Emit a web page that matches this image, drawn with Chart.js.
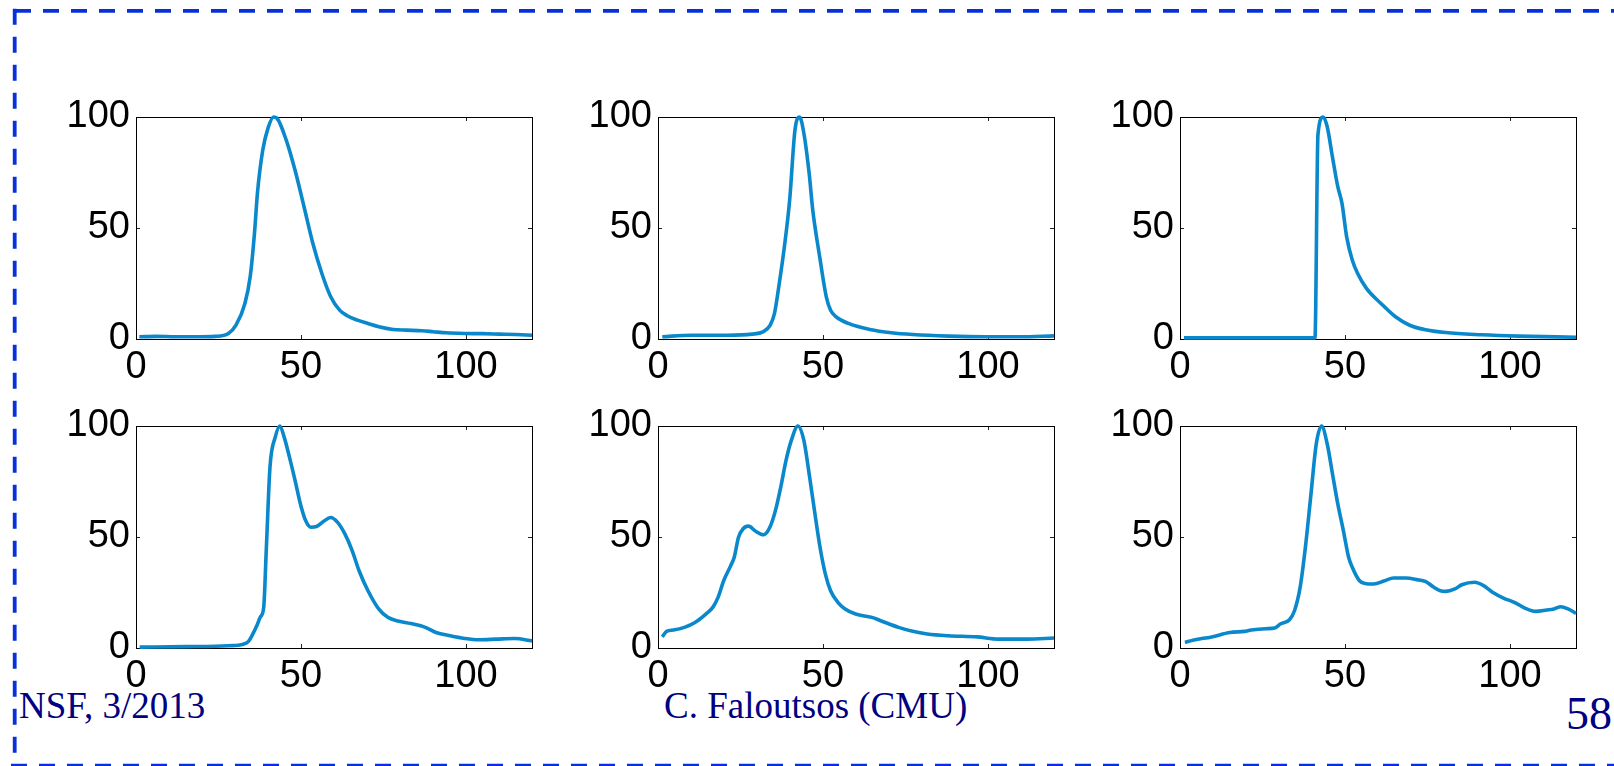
<!DOCTYPE html>
<html>
<head>
<meta charset="utf-8">
<script src="https://cdn.jsdelivr.net/npm/chart.js@4/dist/chart.umd.min.js"></script>
<style>
  html, body { margin: 0; padding: 0; background: #fff; }
  #page { position: relative; width: 1614px; height: 766px; overflow: hidden; background: #fff; }
  #page canvas { position: absolute; }
  #frame { position: absolute; left: 0; top: 0; }
</style>
</head>
<body>
<div id="page">
  <svg id="frame" width="1614" height="766" xmlns="http://www.w3.org/2000/svg">
    <line x1="15" y1="10.8" x2="1614" y2="10.8" stroke="#0630da" stroke-width="3.8" stroke-dasharray="16 12"/>
    <line x1="14.7" y1="8.7" x2="14.7" y2="766" stroke="#0630da" stroke-width="3.8" stroke-dasharray="16 12"/>
    <line x1="11" y1="765" x2="1614" y2="765" stroke="#0630da" stroke-width="2.5" stroke-dasharray="16 12"/>
    <text id="footLeft" x="19" y="717.5" font-family="'Liberation Serif','Times New Roman',serif" font-size="37" fill="#000080"></text>
    <text id="footMid" x="664" y="717.5" font-family="'Liberation Serif','Times New Roman',serif" font-size="37" fill="#000080"></text>
    <text id="footRight" x="1612" y="728.5" text-anchor="end" font-family="'Liberation Serif','Times New Roman',serif" font-size="46" fill="#000080"></text>
  </svg>
  <canvas id="p1" width="504" height="322" style="left:36px;top:77px"></canvas>
  <canvas id="p2" width="504" height="322" style="left:558px;top:77px"></canvas>
  <canvas id="p3" width="504" height="322" style="left:1080px;top:77px"></canvas>
  <canvas id="p4" width="504" height="322" style="left:36px;top:386px"></canvas>
  <canvas id="p5" width="504" height="322" style="left:558px;top:386px"></canvas>
  <canvas id="p6" width="504" height="322" style="left:1080px;top:386px"></canvas>
</div>
<script>
// Tick values shared by all six panels
const xTickValues = [0, 50, 100];
const yTickValues = [0, 50, 100];

// Footer text
const footerLeft = 'NSF, 3/2013';
const footerMid = 'C. Faloutsos (CMU)';
const footerPage = '58';

// Panel 1 (top left)
const xs1 = [1, 6, 12, 18, 24, 28, 30.3, 33, 34.6, 35.9, 36.8, 38.4, 40, 41.7, 42.7, 45.5, 48.2, 50.9, 53.6, 56.3, 59, 61.7, 64, 67.1, 70.3, 73.6, 77.9, 82, 86.6, 90, 94, 99.6, 105, 110, 115, 120];
const ys1 = [1, 1.2, 1, 1, 1.2, 2.5, 6.2, 16, 28, 47.6, 65.7, 85, 95, 100, 99.5, 89.7, 76, 59.7, 43, 29.6, 19, 13, 10.5, 8.5, 7, 5.5, 4.3, 4, 3.7, 3.3, 2.8, 2.5, 2.4, 2.2, 2, 1.7];

// Panel 2 (top middle)
const xs2 = [1.3, 10, 21, 28.5, 31.8, 34, 35.3, 36.6, 38.3, 39.9, 41.5, 42.9, 44.2, 45.8, 46.9, 49, 51, 52.3, 54, 57.7, 64.2, 70.7, 77.2, 88, 98.9, 109.7, 120];
const ys2 = [1, 1.7, 1.7, 2.2, 3.2, 6.2, 11.5, 23.5, 41.6, 62.7, 94, 100, 92.7, 74.7, 58, 37, 19, 13, 10, 7, 4.3, 2.8, 2, 1.3, 1, 1, 1.4];

// Panel 3 (top right)
const xs3 = [1.2, 20, 40.9, 41.8, 43.4, 44.6, 46.2, 47.8, 49.1, 50.5, 52.2, 53.8, 56.5, 60.9, 65.3, 69.6, 74, 80.5, 91.4, 102.4, 120];
const ys3 = [0.5, 0.5, 0.5, 92, 100, 95.7, 82, 68.7, 61, 46, 35.6, 29.6, 22.8, 16, 10, 6.2, 4.3, 2.9, 1.9, 1.3, 0.8];

// Panel 4 (bottom left)
const xs4 = [1.1, 15, 28, 32.5, 34.1, 35.3, 36.6, 37.7, 38.7, 39.5, 40.6, 42.2, 43.6, 44.9, 46.5, 48.2, 49.8, 51.4, 53, 54.7, 56.8, 59, 61.1, 63.3, 65.5, 67.6, 70.3, 73.6, 76.3, 79, 83.3, 87.7, 90.9, 95.2, 99.6, 103.9, 109.3, 114.7, 120];
const ys4 = [0.4, 0.6, 1, 1.7, 3, 6, 10, 14, 18.3, 45, 81.5, 95, 100, 95, 86, 75.5, 65, 57.4, 54.4, 54.7, 57, 58.8, 56.6, 51.4, 43.9, 34.8, 25.8, 17.5, 13.8, 12.3, 11, 9.3, 7, 5.5, 4.3, 3.7, 4, 4.3, 3.2];

// Panel 5 (bottom middle)
const xs5 = [1.3, 2.6, 4.7, 8, 11.2, 14.5, 16.6, 18.2, 19.9, 22, 23.1, 24.4, 25.8, 27.4, 29.6, 32, 33.9, 35.6, 37.2, 38.8, 40.4, 42.4, 44.2, 45.8, 47.4, 49.1, 50.7, 52.3, 54.5, 56.7, 59.9, 64.8, 67.5, 72.9, 77.2, 81.6, 88, 96.7, 103.2, 111.8, 120];
const ys5 = [5, 7.5, 8.1, 9.3, 11.5, 15.3, 18.3, 22.8, 30.3, 37, 40.9, 49.9, 53.7, 54.9, 52.6, 51, 54.4, 62, 72.5, 84.5, 93.5, 100, 93.5, 78.5, 62, 45.4, 33.4, 25.8, 20.6, 17.6, 15.3, 13.8, 12.3, 9.3, 7.5, 6.3, 5.5, 5, 4, 4, 4.5];

// Panel 6 (bottom right)
const xs6 = [1.5, 4.2, 9.6, 15.1, 19.5, 21.6, 26, 28.7, 30.4, 33.1, 34.7, 36.4, 38, 39.6, 41.3, 42.9, 44.6, 46.2, 47.8, 49.5, 51.1, 52.2, 54.4, 56, 58.7, 62, 64.7, 68.5, 71.8, 74.5, 76.7, 78.9, 80.5, 83.3, 85.4, 89.3, 92, 94.7, 98, 101.3, 104.5, 107.8, 111.1, 113.3, 115.4, 117.6, 120];
const ys6 = [2.5, 3.6, 5, 7, 7.5, 8.1, 8.7, 9, 10.8, 12.6, 16.8, 27.3, 45.4, 68, 92, 100, 92, 78.5, 65, 52.9, 40.9, 36.4, 30.3, 29.1, 28.8, 30.3, 31.5, 31.5, 30.8, 29.9, 27.6, 25.8, 25.5, 26.6, 28.5, 29.6, 28.1, 25.1, 22.5, 20.6, 18, 16.5, 17.1, 17.6, 18.6, 17.6, 15.6];

document.getElementById('footLeft').textContent = footerLeft;
document.getElementById('footMid').textContent = footerMid;
document.getElementById('footRight').textContent = footerPage;

const LINE_COLOR = '#0a88cc';
const tickFont = { family: "'Liberation Sans', Arial, Helvetica, sans-serif", size: 38 };

function fixedTicks(values) {
  return scale => { scale.ticks = values.map(v => ({ value: v })); };
}

function axisGrid() {
  return { drawOnChartArea: false, drawTicks: true, tickLength: -4, color: '#222', lineWidth: 1 };
}

function axisBorder() {
  return { display: true, color: '#000', width: 1 };
}

function makePanel(id, xs, ys) {
  const points = xs.map((x, i) => ({ x: x, y: ys[i] }));
  return new Chart(document.getElementById(id), {
    type: 'line',
    data: {
      datasets: [{
        data: points,
        borderColor: LINE_COLOR,
        borderWidth: 3.6,
        pointRadius: 0,
        fill: false,
        cubicInterpolationMode: 'monotone',
        clip: false
      }]
    },
    options: {
      responsive: false,
      animation: false,
      events: [],
      layout: { padding: { left: 0, top: 40, right: 8, bottom: 0 } },
      plugins: { legend: { display: false }, tooltip: { enabled: false } },
      scales: {
        x: {
          type: 'linear', axis: 'x', position: 'bottom', min: 0, max: 120,
          afterBuildTicks: fixedTicks(xTickValues),
          afterFit: s => { s.height = 60; },
          ticks: { autoSkip: false, maxRotation: 0, minRotation: 0, padding: 10, color: '#000', font: tickFont },
          grid: axisGrid(), border: axisBorder()
        },
        y: {
          type: 'linear', axis: 'y', position: 'left', min: 0, max: 100,
          afterBuildTicks: fixedTicks(yTickValues),
          afterFit: s => { s.width = 100; },
          ticks: { autoSkip: false, padding: 10, color: '#000', font: tickFont },
          grid: axisGrid(), border: axisBorder()
        },
        xTop: {
          type: 'linear', axis: 'x', position: 'top', min: 0, max: 120,
          afterBuildTicks: fixedTicks(xTickValues),
          afterFit: s => { s.height = 0; },
          ticks: { display: false },
          grid: axisGrid(), border: axisBorder()
        },
        yRight: {
          type: 'linear', axis: 'y', position: 'right', min: 0, max: 100,
          afterBuildTicks: fixedTicks(yTickValues),
          afterFit: s => { s.width = 0; },
          ticks: { display: false },
          grid: axisGrid(), border: axisBorder()
        }
      }
    }
  });
}

makePanel('p1', xs1, ys1);
makePanel('p2', xs2, ys2);
makePanel('p3', xs3, ys3);
makePanel('p4', xs4, ys4);
makePanel('p5', xs5, ys5);
makePanel('p6', xs6, ys6);
</script>
</body>
</html>
